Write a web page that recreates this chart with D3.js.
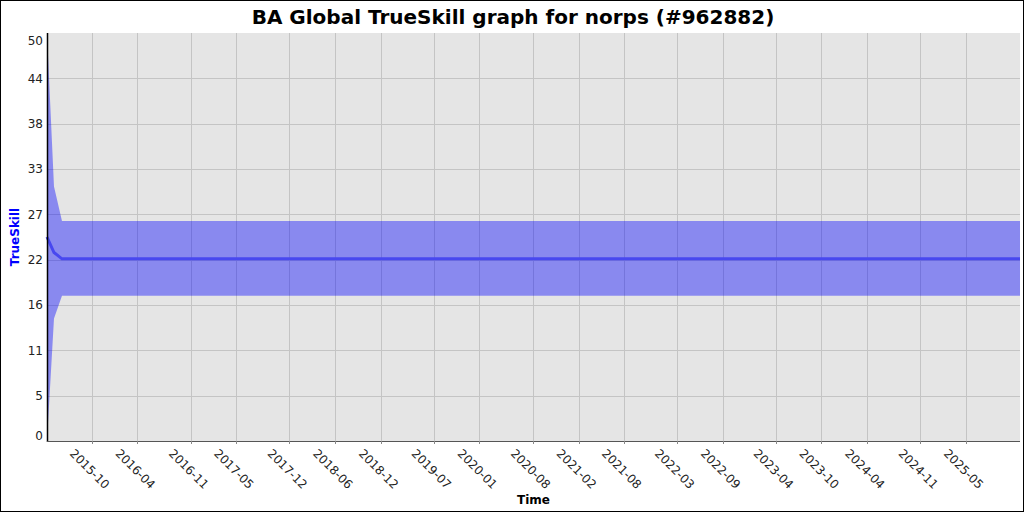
<!DOCTYPE html>
<html>
<head>
<meta charset="utf-8">
<script src="https://cdn.jsdelivr.net/npm/d3@7"></script>
<style>
  body { margin: 0; background: #fff; }
  svg { display: block; font-family: "DejaVu Sans", sans-serif; }
</style>
</head>
<body>
<div id="chart"></div>
<script>
// rating history (date, mean, mean + 3 sigma, mean - 3 sigma)
let dates = ["2015-04-05", "2015-05-03", "2015-06-04", "2025-12-05"]
let mean = [25.0, 23.1, 22.32, 22.32]
let upper = [50.0, 31.2, 26.96, 26.96]
let lower = [0.0, 15.0, 17.8, 17.8]

let yTicks = [0, 50 / 9, 100 / 9, 150 / 9, 200 / 9, 250 / 9, 300 / 9, 350 / 9, 400 / 9, 50]
let yTickLabels = ["0", "5", "11", "16", "22", "27", "33", "38", "44", "50"]
let xTickLabels = ["2015-10", "2016-04", "2016-11", "2017-05", "2017-12", "2018-06", "2018-12",
    "2019-07", "2020-01", "2020-08", "2021-02", "2021-08", "2022-03", "2022-09", "2023-04",
    "2023-10", "2024-04", "2024-11", "2025-05"]

var margin = { top: 33, right: 4, bottom: 71, left: 47 },
    width = 1024 - margin.left - margin.right,
    height = 512 - margin.top - margin.bottom;

let parse = d3.timeParse("%Y-%m-%d")
let data = dates.map(function (d, i) {
    return { date: parse(d), mean: mean[i], upper: upper[i], lower: lower[i] }
})

let xScale = d3.scaleTime()
    .domain([parse(dates[0]), parse(dates[dates.length - 1])])
    .range([0, width])

let yScale = d3.scaleLinear()
    .domain([0, 50])
    .range([height, 0])

let svg = d3.select("#chart")
    .append("svg")
    .attr("width", 1024)
    .attr("height", 512)

// outer border
svg.append("rect")
    .attr("x", 0.5).attr("y", 0.5)
    .attr("width", 1023).attr("height", 511)
    .attr("fill", "#fff")
    .attr("stroke", "#000")

svg.append("text")
    .attr("x", 513)
    .attr("y", 24)
    .attr("text-anchor", "middle")
    .style("font-size", "20px")
    .style("font-weight", "bold")
    .text("BA Global TrueSkill graph for norps (#962882)")

let g = svg.append("g")
    .attr("transform", "translate(" + margin.left + "," + margin.top + ")")

g.append("rect")
    .attr("width", width)
    .attr("height", height)
    .attr("fill", "#e5e5e5")

let xTicks = xTickLabels.map(function (s) { return d3.timeParse("%Y-%m")(s) })

// grid
g.selectAll(".vgrid")
    .data(xTicks)
    .enter()
    .append("line")
    .attr("class", "vgrid")
    .attr("x1", d => Math.round(xScale(d)) + 0.5)
    .attr("x2", d => Math.round(xScale(d)) + 0.5)
    .attr("y1", 0)
    .attr("y2", height)
    .attr("stroke", "#c4c4c4")

g.selectAll(".hgrid")
    .data(yTicks.slice(1, -1))
    .enter()
    .append("line")
    .attr("class", "hgrid")
    .attr("x1", 0)
    .attr("x2", width)
    .attr("y1", d => Math.round(yScale(d)) + 0.5)
    .attr("y2", d => Math.round(yScale(d)) + 0.5)
    .attr("stroke", "#c4c4c4")

// uncertainty band
let area = d3.area()
    .x(d => xScale(d.date))
    .y0(d => yScale(d.lower))
    .y1(d => yScale(d.upper))

g.append("path")
    .datum(data)
    .attr("d", area)
    .attr("fill", "rgb(0,0,255)")
    .attr("fill-opacity", 0.4)

let line = d3.line()
    .x(d => xScale(d.date))
    .y(d => yScale(d.mean))

g.append("path")
    .datum(data)
    .attr("d", line)
    .attr("fill", "none")
    .attr("stroke", "#4848ef")
    .attr("stroke-width", 3)

// axes lines
g.append("line")
    .attr("x1", 0.5).attr("x2", 0.5)
    .attr("y1", 0).attr("y2", height + 1)
    .attr("stroke", "#000")
    .attr("stroke-width", 1.5)

g.append("line")
    .attr("x1", 0).attr("x2", width)
    .attr("y1", height + 0.5).attr("y2", height + 0.5)
    .attr("stroke", "#555")

// y tick labels (kept inside the plot height like the original)
g.selectAll(".ylab")
    .data(yTicks)
    .enter()
    .append("text")
    .attr("class", "ylab")
    .attr("x", -4)
    .attr("y", d => Math.min(Math.max(yScale(d), 8), height - 5))
    .attr("dy", "0.35em")
    .attr("text-anchor", "end")
    .style("font-size", "12px")
    .attr("fill", "#222")
    .text((d, i) => yTickLabels[i])

// x tick marks and rotated labels
g.selectAll(".xtick")
    .data(xTicks)
    .enter()
    .append("line")
    .attr("class", "xtick")
    .attr("x1", d => Math.round(xScale(d)) + 0.5)
    .attr("x2", d => Math.round(xScale(d)) + 0.5)
    .attr("y1", height)
    .attr("y2", height + 3)
    .attr("stroke", "#888")

g.selectAll(".xlab")
    .data(xTicks)
    .enter()
    .append("text")
    .attr("class", "xlab")
    .attr("transform", d => "translate(" + (xScale(d) - 2) + "," + (height + 28) + ") rotate(45)")
    .attr("text-anchor", "middle")
    .attr("dy", "0.35em")
    .style("font-size", "12px")
    .attr("fill", "#222")
    .text((d, i) => xTickLabels[i])

// axis titles
svg.append("text")
    .attr("x", margin.left + width / 2)
    .attr("y", 504)
    .attr("text-anchor", "middle")
    .style("font-size", "12px")
    .style("font-weight", "bold")
    .text("Time")

svg.append("text")
    .attr("transform", "translate(19," + (margin.top + height / 2) + ") rotate(-90)")
    .attr("text-anchor", "middle")
    .style("font-size", "12px")
    .style("font-weight", "bold")
    .attr("fill", "#0000ff")
    .text("TrueSkill")
</script>
</body>
</html>
